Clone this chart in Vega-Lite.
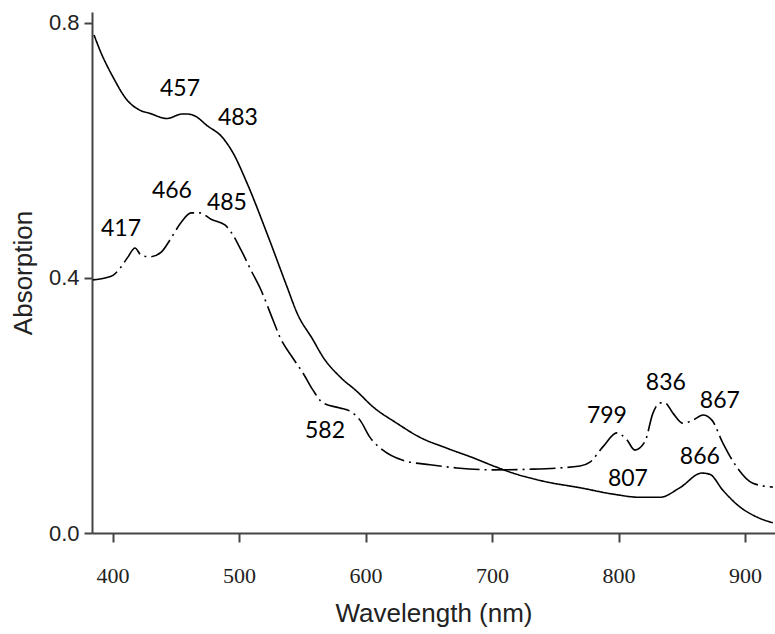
{
  "$schema": "https://vega.github.io/schema/vega-lite/v6.json",
  "width": 683,
  "height": 521,
  "autosize": "none",
  "padding": {"left": 92, "top": 12, "right": 0, "bottom": 101},
  "background": "white",
  "config": {"view": {"stroke": null}},
  "datasets": {
    "spectra": [
      {"series": "solid", "wl": 385.3, "abs": 0.781},
      {"series": "solid", "wl": 390.0, "abs": 0.757},
      {"series": "solid", "wl": 400.3, "abs": 0.715},
      {"series": "solid", "wl": 411.4, "abs": 0.679},
      {"series": "solid", "wl": 421.6, "abs": 0.663},
      {"series": "solid", "wl": 429.5, "abs": 0.658},
      {"series": "solid", "wl": 443.0, "abs": 0.650},
      {"series": "solid", "wl": 454.8, "abs": 0.657},
      {"series": "solid", "wl": 458.8, "abs": 0.657},
      {"series": "solid", "wl": 465.1, "abs": 0.654},
      {"series": "solid", "wl": 474.6, "abs": 0.639},
      {"series": "solid", "wl": 486.5, "abs": 0.621},
      {"series": "solid", "wl": 495.2, "abs": 0.596},
      {"series": "solid", "wl": 506.2, "abs": 0.549},
      {"series": "solid", "wl": 522.0, "abs": 0.470},
      {"series": "solid", "wl": 537.9, "abs": 0.386},
      {"series": "solid", "wl": 545.8, "abs": 0.345},
      {"series": "solid", "wl": 558.4, "abs": 0.303},
      {"series": "solid", "wl": 566.3, "abs": 0.276},
      {"series": "solid", "wl": 579.7, "abs": 0.245},
      {"series": "solid", "wl": 593.2, "abs": 0.222},
      {"series": "solid", "wl": 605.8, "abs": 0.198},
      {"series": "solid", "wl": 624.8, "abs": 0.172},
      {"series": "solid", "wl": 643.0, "abs": 0.150},
      {"series": "solid", "wl": 664.3, "abs": 0.133},
      {"series": "solid", "wl": 684.9, "abs": 0.118},
      {"series": "solid", "wl": 703.9, "abs": 0.103},
      {"series": "solid", "wl": 716.5, "abs": 0.094},
      {"series": "solid", "wl": 743.4, "abs": 0.080},
      {"series": "solid", "wl": 769.5, "abs": 0.071},
      {"series": "solid", "wl": 795.6, "abs": 0.061},
      {"series": "solid", "wl": 817.0, "abs": 0.056},
      {"series": "solid", "wl": 832.7, "abs": 0.056},
      {"series": "solid", "wl": 848.5, "abs": 0.071},
      {"series": "solid", "wl": 865.9, "abs": 0.094},
      {"series": "solid", "wl": 872.2, "abs": 0.092},
      {"series": "solid", "wl": 882.5, "abs": 0.067},
      {"series": "solid", "wl": 895.9, "abs": 0.041},
      {"series": "solid", "wl": 909.4, "abs": 0.025},
      {"series": "solid", "wl": 922.0, "abs": 0.016},
      {"series": "dashdot", "wl": 384.5, "abs": 0.397},
      {"series": "dashdot", "wl": 394.0, "abs": 0.400},
      {"series": "dashdot", "wl": 400.3, "abs": 0.404},
      {"series": "dashdot", "wl": 406.6, "abs": 0.417},
      {"series": "dashdot", "wl": 412.2, "abs": 0.433},
      {"series": "dashdot", "wl": 417.7, "abs": 0.447},
      {"series": "dashdot", "wl": 422.4, "abs": 0.436},
      {"series": "dashdot", "wl": 429.5, "abs": 0.433},
      {"series": "dashdot", "wl": 438.2, "abs": 0.440},
      {"series": "dashdot", "wl": 446.1, "abs": 0.462},
      {"series": "dashdot", "wl": 454.1, "abs": 0.487},
      {"series": "dashdot", "wl": 462.0, "abs": 0.502},
      {"series": "dashdot", "wl": 469.1, "abs": 0.502},
      {"series": "dashdot", "wl": 477.8, "abs": 0.492},
      {"series": "dashdot", "wl": 488.8, "abs": 0.483},
      {"series": "dashdot", "wl": 493.6, "abs": 0.472},
      {"series": "dashdot", "wl": 501.5, "abs": 0.444},
      {"series": "dashdot", "wl": 509.4, "abs": 0.412},
      {"series": "dashdot", "wl": 517.3, "abs": 0.381},
      {"series": "dashdot", "wl": 526.8, "abs": 0.334},
      {"series": "dashdot", "wl": 532.3, "abs": 0.307},
      {"series": "dashdot", "wl": 542.6, "abs": 0.274},
      {"series": "dashdot", "wl": 550.5, "abs": 0.251},
      {"series": "dashdot", "wl": 558.4, "abs": 0.224},
      {"series": "dashdot", "wl": 566.3, "abs": 0.204},
      {"series": "dashdot", "wl": 579.7, "abs": 0.196},
      {"series": "dashdot", "wl": 587.7, "abs": 0.191},
      {"series": "dashdot", "wl": 595.6, "abs": 0.177},
      {"series": "dashdot", "wl": 603.5, "abs": 0.150},
      {"series": "dashdot", "wl": 613.7, "abs": 0.130},
      {"series": "dashdot", "wl": 629.5, "abs": 0.114},
      {"series": "dashdot", "wl": 650.9, "abs": 0.107},
      {"series": "dashdot", "wl": 672.2, "abs": 0.102},
      {"series": "dashdot", "wl": 700.7, "abs": 0.099},
      {"series": "dashdot", "wl": 729.9, "abs": 0.100},
      {"series": "dashdot", "wl": 769.5, "abs": 0.105},
      {"series": "dashdot", "wl": 777.4, "abs": 0.111},
      {"series": "dashdot", "wl": 787.6, "abs": 0.135},
      {"series": "dashdot", "wl": 798.7, "abs": 0.157},
      {"series": "dashdot", "wl": 806.6, "abs": 0.146},
      {"series": "dashdot", "wl": 812.9, "abs": 0.130},
      {"series": "dashdot", "wl": 820.8, "abs": 0.143},
      {"series": "dashdot", "wl": 827.2, "abs": 0.188},
      {"series": "dashdot", "wl": 832.7, "abs": 0.204},
      {"series": "dashdot", "wl": 836.7, "abs": 0.204},
      {"series": "dashdot", "wl": 843.0, "abs": 0.188},
      {"series": "dashdot", "wl": 850.9, "abs": 0.172},
      {"series": "dashdot", "wl": 858.8, "abs": 0.177},
      {"series": "dashdot", "wl": 866.7, "abs": 0.185},
      {"series": "dashdot", "wl": 873.8, "abs": 0.177},
      {"series": "dashdot", "wl": 882.5, "abs": 0.141},
      {"series": "dashdot", "wl": 893.6, "abs": 0.103},
      {"series": "dashdot", "wl": 906.2, "abs": 0.078},
      {"series": "dashdot", "wl": 922.0, "abs": 0.072}
    ],
    "labels": [
      {"label": "457", "wl": 453.3, "abs": 0.697},
      {"label": "483", "wl": 499.1, "abs": 0.650},
      {"label": "466", "wl": 446.9, "abs": 0.536},
      {"label": "485", "wl": 490.4, "abs": 0.517},
      {"label": "417", "wl": 406.6, "abs": 0.476},
      {"label": "582", "wl": 567.9, "abs": 0.160},
      {"label": "799", "wl": 790.8, "abs": 0.183},
      {"label": "807", "wl": 807.4, "abs": 0.085},
      {"label": "836", "wl": 837.4, "abs": 0.235},
      {"label": "867", "wl": 880.1, "abs": 0.207},
      {"label": "866", "wl": 864.3, "abs": 0.119}
    ]
  },
  "layer": [
    {
      "data": {"name": "spectra"},
      "mark": {"type": "line", "color": "black", "strokeWidth": 1.6, "clip": true, "interpolate": "monotone"},
      "encoding": {
        "x": {
          "field": "wl", "type": "quantitative",
          "scale": {"domain": [383.7, 923.7], "nice": false, "zero": false},
          "axis": {
            "values": [400, 500, 600, 700, 800, 900],
            "title": "Wavelength (nm)",
            "grid": false,
            "domainColor": "#444", "domainWidth": 2,
            "tickColor": "#444", "tickWidth": 2, "tickSize": 9,
            "labelFont": "Liberation Sans Narrow",
            "labelFontSize": 22, "labelColor": "#222", "labelPadding": 23,
            "titleFont": "Liberation Sans", "titleFontSize": 26, "titleFontWeight": "normal",
            "titleColor": "#222", "titleY": 80, "titleBaseline": "middle"
          }
        },
        "y": {
          "field": "abs", "type": "quantitative",
          "scale": {"domain": [0, 0.817], "nice": false},
          "axis": {
            "values": [0, 0.4, 0.8],
            "format": ".1f",
            "title": "Absorption",
            "grid": false,
            "domainColor": "#444", "domainWidth": 2,
            "tickColor": "#444", "tickWidth": 2, "tickSize": 8,
            "labelFont": "Liberation Sans",
            "labelFontSize": 22, "labelColor": "#222", "labelPadding": 5,
            "titleFont": "Liberation Sans", "titleFontSize": 26, "titleFontWeight": "normal",
            "titleColor": "#222", "titleX": -69, "titleAngle": -90, "titleBaseline": "middle"
          }
        },
        "strokeDash": {
          "field": "series", "type": "nominal",
          "scale": {"domain": ["solid", "dashdot"], "range": [[1, 0], [26, 5, 2, 5]]},
          "legend": null
        },
        "order": {"field": "wl", "type": "quantitative"}
      }
    },
    {
      "data": {"name": "labels"},
      "mark": {"type": "text", "font": "Lato", "fontSize": 23, "color": "black", "align": "center", "baseline": "middle"},
      "encoding": {
        "x": {"field": "wl", "type": "quantitative"},
        "y": {"field": "abs", "type": "quantitative"},
        "text": {"field": "label", "type": "nominal"}
      }
    }
  ]
}
